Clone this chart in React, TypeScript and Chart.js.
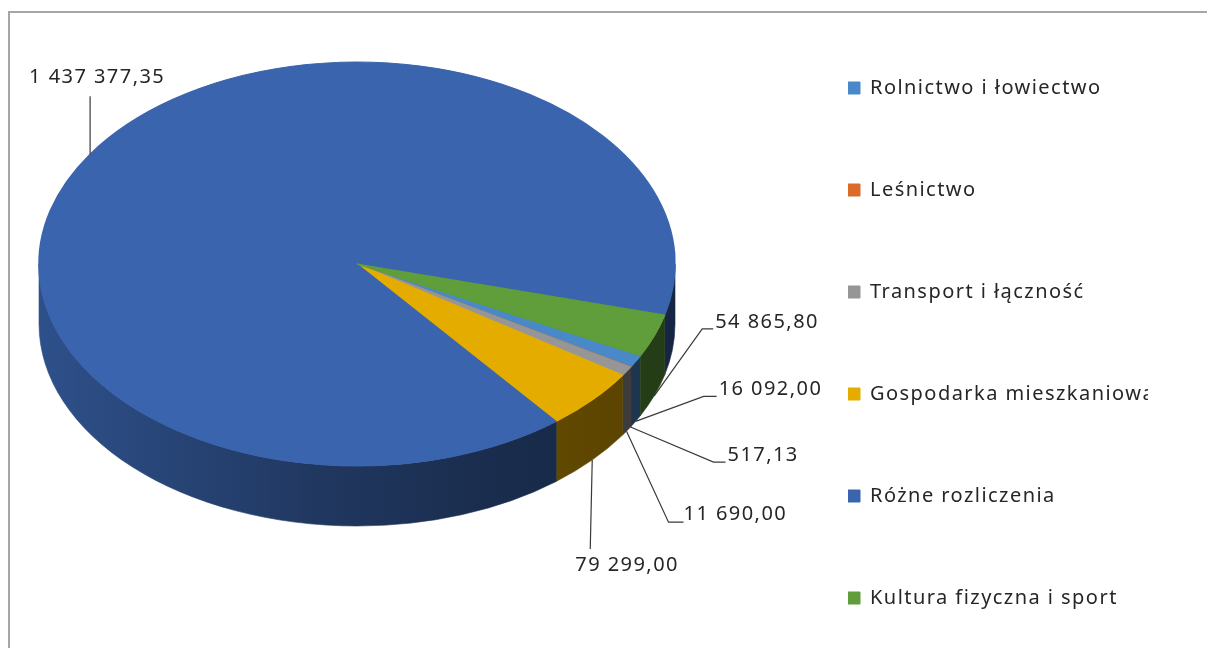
import React, { useEffect, useRef } from 'react';
import { Chart, registerables } from 'chart.js';

Chart.register(...registerables);

// ---- data ----
const categories = [
  'Rolnictwo i łowiectwo',
  'Leśnictwo',
  'Transport i łączność',
  'Gospodarka mieszkaniowa',
  'Różne rozliczenia',
  'Kultura fizyczna i sport',
];
const values = [16092.0, 517.13, 11690.0, 79299.0, 1437377.35, 54865.8];
const colors = ['#4A89C8', '#DA6B2A', '#969696', '#E5AC00', '#3A64AD', '#5F9E3A'];

// ---- data-label leader layout (offsets from the slice edge) ----
const labelElbows = [[68, -25], [83, 35], [42, 91], [-2, 89], [0, -58], [48, -67]];
const labelTails = [13, 12, 15, 0, 0, 11];
const labelTextOffsets = [[2, -7], [2, -7], [0, -8], [-15, 16], [-61, -19], [2, -7]];

const FONT = '"Noto Sans", sans-serif';
const SPACING = '1.45px';
const TAU = Math.PI * 2;
const SHADE: [number, number][] = [[0, 0.8], [0.45, 0.55], [0.7, 0.45], [1, 0.38]];

function formatPL(v: number): string {
  const [int, dec] = v.toFixed(2).split('.');
  return int.replace(/\B(?=(\d{3})+(?!\d))/g, ' ') + ',' + dec;
}

function shade(hex: string, f: number): string {
  const n = parseInt(hex.slice(1), 16);
  const r = Math.round(((n >> 16) & 255) * f);
  const g = Math.round(((n >> 8) & 255) * f);
  const b = Math.round((n & 255) * f);
  return `rgb(${r},${g},${b})`;
}

const pie3d: any = {
  id: 'pie3d',
  beforeLayout(chart: any) {
    chart.ctx.letterSpacing = SPACING;
  },
  beforeDraw(chart: any) {
    chart.ctx.letterSpacing = SPACING;
  },
  beforeDatasetsDraw(chart: any, _args: any, opts: any) {
    const arcs = chart.getDatasetMeta(0).data as any[];
    chart.$pie3dSaved = false;
    if (!arcs.length) return;
    const { x: cx, y: cy, outerRadius: r } = arcs[0];
    const rx = r * opts.xScale;
    const ry = r;
    const depth = opts.depth;
    const ctx = chart.ctx;
    ctx.save();
    arcs.forEach((arc: any) => {
      const color = arc.options.backgroundColor as string;
      let s = arc.startAngle;
      let e = arc.endAngle;
      const k = Math.floor(s / TAU) * TAU;
      s -= k;
      e -= k;
      [0, TAU].forEach((base) => {
        const a = Math.max(s, base);
        const b = Math.min(e, base + Math.PI);
        if (b <= a) return;
        const g = ctx.createLinearGradient(cx - rx, 0, cx + rx, 0);
        SHADE.forEach(([stop, f]) => g.addColorStop(stop, shade(color, f)));
        ctx.beginPath();
        ctx.ellipse(cx, cy, rx, ry, 0, a, b, false);
        ctx.ellipse(cx, cy + depth, rx, ry, 0, b, a, true);
        ctx.closePath();
        ctx.fillStyle = g;
        ctx.fill();
        ctx.strokeStyle = g;
        ctx.lineWidth = 0.6;
        ctx.stroke();
      });
    });
    ctx.restore();
    ctx.save();
    ctx.translate(cx, cy);
    ctx.scale(opts.xScale, 1);
    ctx.translate(-cx, -cy);
    chart.$pie3dSaved = true;
  },
  afterDatasetsDraw(chart: any, _args: any, opts: any) {
    if (!chart.$pie3dSaved) return;
    const ctx = chart.ctx;
    ctx.restore();
    const arcs = chart.getDatasetMeta(0).data as any[];
    const { x: cx, y: cy, outerRadius: r } = arcs[0];
    const rx = r * opts.xScale;
    const ry = r;
    const depth = opts.depth;
    ctx.save();
    ctx.letterSpacing = SPACING;
    ctx.font = `20px ${FONT}`;
    ctx.fillStyle = '#262626';
    ctx.strokeStyle = '#3a3a3a';
    ctx.lineWidth = 1.2;
    ctx.textBaseline = 'middle';
    ctx.textAlign = 'left';
    arcs.forEach((arc: any, i: number) => {
      const mid = (arc.startAngle + arc.endAngle) / 2;
      const px = cx + rx * Math.cos(mid);
      const py = cy + ry * Math.sin(mid) + (Math.sin(mid) > 0 ? depth : 0);
      const ex = px + labelElbows[i][0];
      const ey = py + labelElbows[i][1];
      const tx = ex + labelTails[i];
      ctx.beginPath();
      ctx.moveTo(px, py);
      ctx.lineTo(ex, ey);
      ctx.lineTo(tx, ey);
      ctx.stroke();
      ctx.fillText(formatPL(values[i]), tx + labelTextOffsets[i][0], ey + labelTextOffsets[i][1]);
    });
    ctx.restore();
  },
};

export default function App() {
  const ref = useRef<HTMLCanvasElement | null>(null);

  useEffect(() => {
    const canvas = ref.current;
    if (!canvas) return;
    const baseGen = (Chart as any).overrides.doughnut.plugins.legend.labels.generateLabels;
    const chart = new Chart(canvas, {
      type: 'pie',
      data: {
        labels: categories,
        datasets: [
          {
            data: values,
            backgroundColor: colors,
            borderColor: colors,
            borderWidth: 1,
            rotation: 117,
            radius: 202,
          } as any,
        ],
      },
      options: {
        responsive: false,
        animation: false,
        events: [],
        layout: { padding: { left: 0, right: 78, top: 0, bottom: 18 } },
        plugins: {
          tooltip: { enabled: false },
          legend: {
            position: 'right',
            align: 'end',
            maxWidth: 300,
            labels: {
              boxWidth: 12,
              boxHeight: 12,
              padding: 0,
              color: '#262626',
              font: { family: FONT, size: 20, lineHeight: '102px' } as any,
              generateLabels: (c: any) =>
                baseGen(c).map((it: any) => ({ ...it, text: [it.text] })),
            },
          } as any,
          pie3d: { xScale: 318 / 202, depth: 60 },
        } as any,
      },
      plugins: [pie3d],
    });
    return () => chart.destroy();
  }, []);

  // The chart is larger than the visible window (as in the cropped original);
  // the frame is the chart border, of which only the top and left edges show.
  return (
    <div
      style={{
        position: 'relative',
        marginTop: 3,
        width: 1197,
        height: 635,
        overflow: 'hidden',
        borderLeft: '2px solid #A6A6A6',
        borderTop: '2px solid #A6A6A6',
      }}
    >
      <canvas
        ref={ref}
        width={1360}
        height={870}
        style={{ position: 'absolute', left: -144, top: -175, display: 'block' }}
      />
    </div>
  );
}
